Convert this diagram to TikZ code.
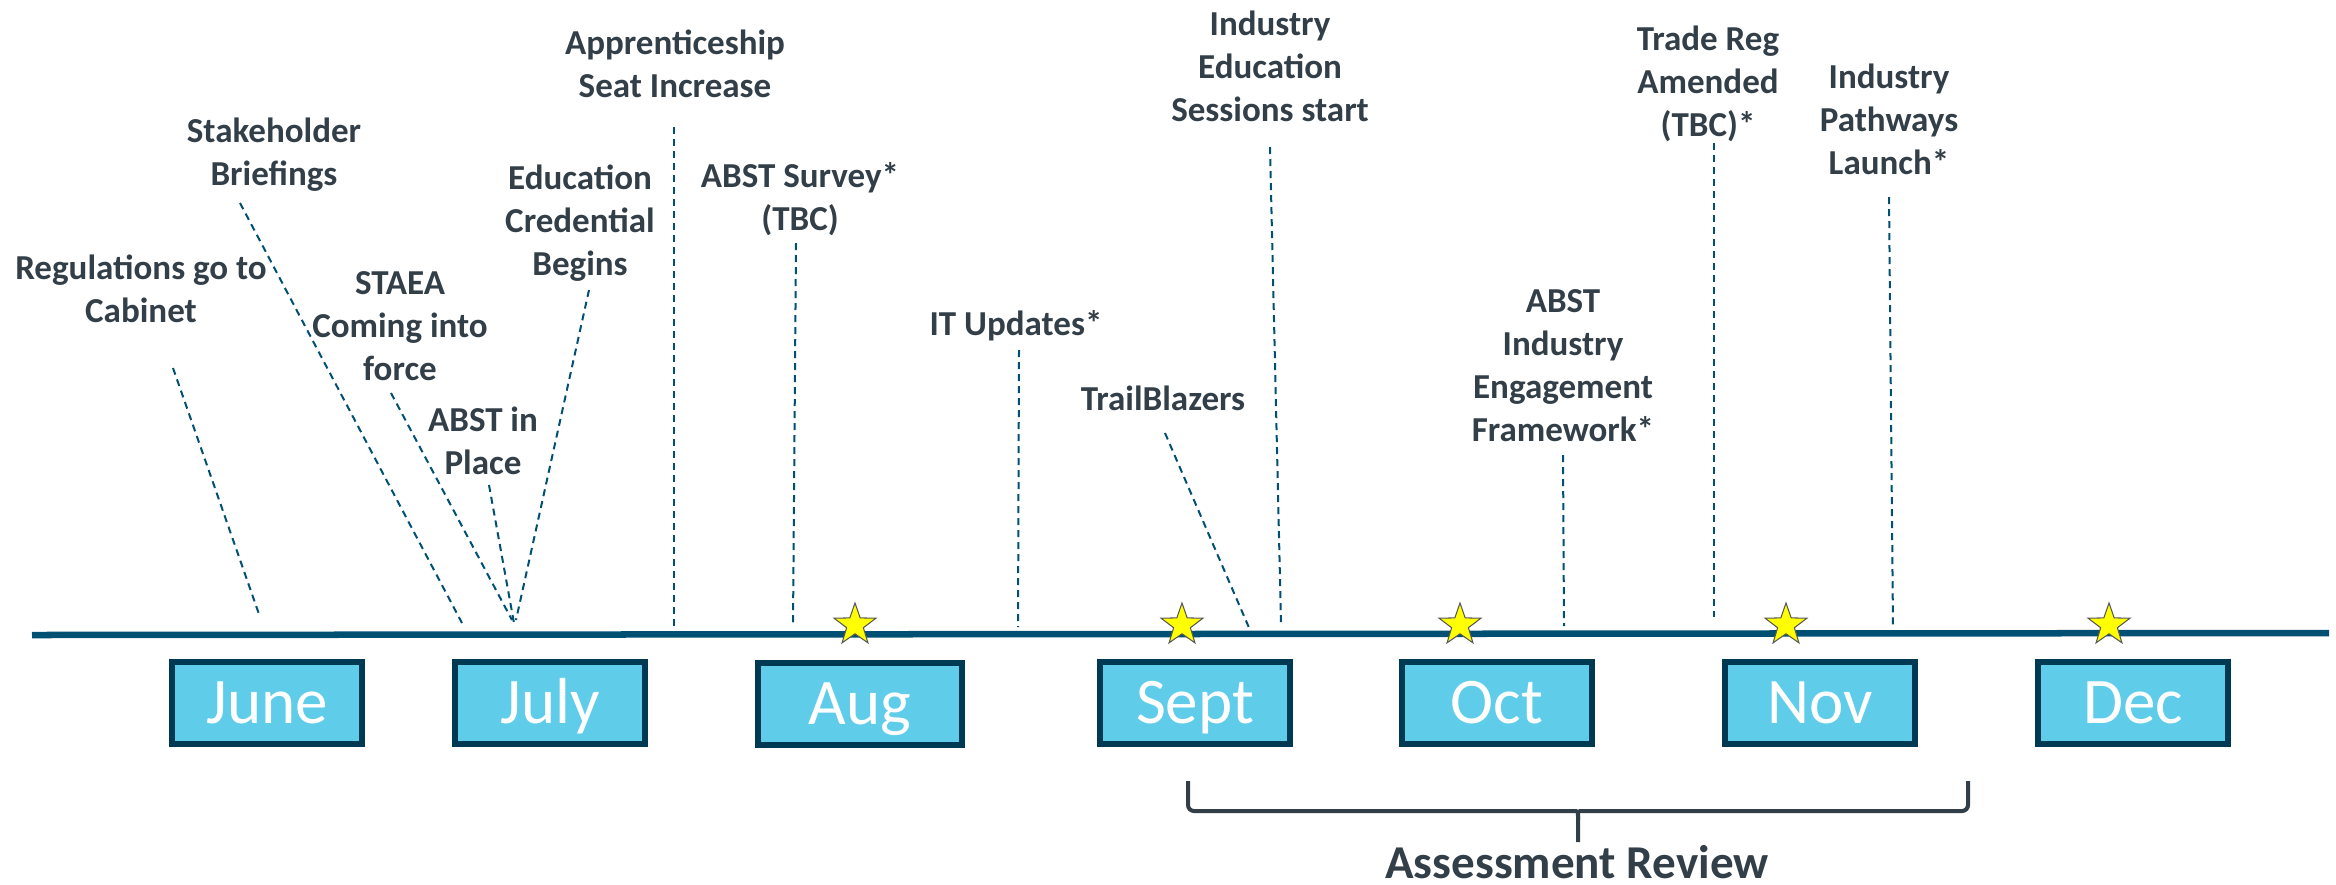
\documentclass[tikz,border=0pt]{standalone}
\usepackage{fontspec}
\setmainfont{Carlito}
\usetikzlibrary{shapes.geometric}
\definecolor{lineblue}{RGB}{0,80,116}
\definecolor{labelgray}{RGB}{51,63,72}
\definecolor{monthfill}{RGB}{95,205,234}
\definecolor{monthedge}{RGB}{0,58,82}
\definecolor{staryellow}{RGB}{255,255,0}
\tikzset{
  timeline/.style={lineblue,line width=0.065cm},
  tick/.style={lineblue,line width=0.02cm,dash pattern=on 0.07cm off 0.05cm},
  lbl/.style={text=labelgray,align=center,inner sep=0pt,
    font=\bfseries\fontsize{9.96}{12.23}\selectfont},
  month/.style={rectangle,fill=monthfill,draw=monthedge,line width=0.06cm,
    minimum width=1.89cm,minimum height=0.81cm,inner sep=0pt,text=white,
    text height=11.9pt,text depth=0pt,font=\fontsize{18.5}{22}\selectfont},
  starmark/.style={star,star points=5,star point ratio=2.5,minimum size=0.44cm,
    inner sep=0pt,fill=staryellow,draw=black!65,line width=0.3pt},
  brace/.style={labelgray,line width=0.04cm},
}

\begin{document}
\begin{tikzpicture}[x=0.01cm,y=-0.01cm]
\useasboundingbox (0,0) rectangle (2336,884);
% timeline
\coordinate (tlA) at (32,635);
\coordinate (tlB) at (2329,633);
\draw[timeline] (tlA) -- (tlB);
%
% labels
%
\node[lbl] (reg) at (141,289) {Regulations go to\\Cabinet};
\node[lbl] (stake) at (274,155) {Stakeholder\\Briefings};
\node[lbl] (staea) at (400,326) {STAEA\\Coming into\\force};
\node[lbl] (place) at (483,441) {ABST in\\Place};
\node[lbl] (educ) at (580,223) {Education\\Credential\\Begins};
\node[lbl] (appr) at (675,64) {Apprenticeship\\Seat Increase};
\node[lbl] (survey) at (800,199) {ABST Survey*\\(TBC)};
\node[lbl] (itup) at (1016,326) {IT Updates*};
\node[lbl] (trail) at (1163,398) {TrailBlazers};
\node[lbl] (sess) at (1270,66) {Industry\\Education\\Sessions start};
\node[lbl] (frame) at (1563,366) {ABST\\Industry\\Engagement\\Framework*};
\node[lbl] (trade) at (1708,84) {Trade Reg\\Amended\\(TBC)*};
\node[lbl] (path) at (1889,119) {Industry\\Pathways\\Launch*};
%
% dashed ticks
%
\coordinate (regT) at (173,368);   \coordinate (regB) at (260,617);
\coordinate (stakeT) at (240,203); \coordinate (stakeB) at (462,623);
\coordinate (staeaT) at (391,393); \coordinate (staeaB) at (512,620);
\coordinate (placeT) at (489,485); \coordinate (placeB) at (514,623);
\coordinate (educT) at (589,290);  \coordinate (educB) at (516,620);
\coordinate (apprT) at (674,127);  \coordinate (apprB) at (674,632);
\coordinate (surveyT) at (796,243); \coordinate (surveyB) at (793,625);
\coordinate (itupT) at (1019,350); \coordinate (itupB) at (1018,627);
\coordinate (trailT) at (1165,433); \coordinate (trailB) at (1250,630);
\coordinate (sessT) at (1270,147); \coordinate (sessB) at (1281,623);
\coordinate (frameT) at (1563,455); \coordinate (frameB) at (1564,626);
\coordinate (tradeT) at (1714,143); \coordinate (tradeB) at (1714,617);
\coordinate (pathT) at (1889,197); \coordinate (pathB) at (1893,628);
\draw[tick] (regT) -- (regB);
\draw[tick] (stakeT) -- (stakeB);
\draw[tick] (staeaT) -- (staeaB);
\draw[tick] (placeT) -- (placeB);
\draw[tick] (educT) -- (educB);
\draw[tick] (apprT) -- (apprB);
\draw[tick] (surveyT) -- (surveyB);
\draw[tick] (itupT) -- (itupB);
\draw[tick] (trailT) -- (trailB);
\draw[tick] (sessT) -- (sessB);
\draw[tick] (frameT) -- (frameB);
\draw[tick] (tradeT) -- (tradeB);
\draw[tick] (pathT) -- (pathB);
%
% stars
%
\node[starmark] (st1) at (855,625) {};
\node[starmark] (st2) at (1182,625) {};
\node[starmark] (st3) at (1460,625) {};
\node[starmark] (st4) at (1786,625) {};
\node[starmark] (st5) at (2109,625) {};
%
% months
%
\node[month] (jun) at (267,703) {June};
\node[month] (jul) at (550,703) {July};
\node[month,minimum width=2.03cm] (aug) at (860,704) {Aug};
\node[month] (sep) at (1195,703) {Sept};
\node[month] (oct) at (1497,703) {Oct};
\node[month] (nov) at (1820,703) {Nov};
\node[month] (dec) at (2133,703) {Dec};
%
% assessment review
%
\coordinate (brL) at (1188,781);
\coordinate (brR) at (1968,781);
\coordinate (brM) at (1578,842);
\draw[brace] (brL) [rounded corners=0.06cm] |- (1570,811) [sharp corners] .. controls (1578,811) .. (1578,820) -- (brM);
\draw[brace] (brR) [rounded corners=0.06cm] |- (1586,811) [sharp corners] .. controls (1578,811) .. (1578,820);
\node[text=labelgray,inner sep=0pt,anchor=base,font=\bfseries\fontsize{13.4}{16}\selectfont] (assess) at (1577,878) {Assessment Review};
\end{tikzpicture}
\end{document}
